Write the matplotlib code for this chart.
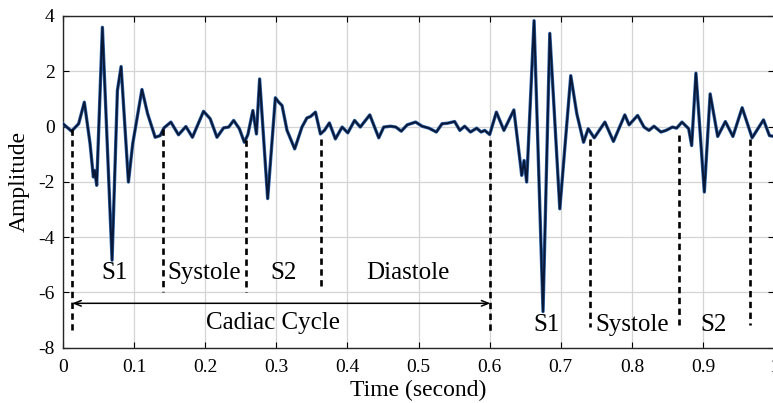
import numpy as np
import matplotlib
matplotlib.use('Agg')
import matplotlib.pyplot as plt

# PCG trace (peaks, troughs, shoulders)
time_s = [0.000, 0.012, 0.022, 0.030, 0.038, 0.0427, 0.0446, 0.0474, 0.0554, 0.069,
          0.0765, 0.0817, 0.092, 0.098, 0.111, 0.119, 0.1296, 0.1366, 0.142, 0.1517,
          0.1624, 0.1728, 0.182, 0.1976, 0.207, 0.2165, 0.2258, 0.233, 0.240, 0.248,
          0.255, 0.260, 0.267, 0.272, 0.2765, 0.2878, 0.2986, 0.3033, 0.308, 0.315,
          0.3258, 0.336, 0.343, 0.348, 0.355, 0.362, 0.3676, 0.3746, 0.383, 0.3925,
          0.4005, 0.410, 0.418, 0.4314, 0.444, 0.451, 0.4606, 0.468, 0.4756, 0.484,
          0.4958, 0.505, 0.5145, 0.525, 0.533, 0.541, 0.5507, 0.558, 0.5648, 0.573,
          0.5817, 0.588, 0.593, 0.600, 0.6094, 0.620, 0.634, 0.6437, 0.645, 0.6484,
          0.652, 0.6624, 0.675, 0.6845, 0.6986, 0.714, 0.7225, 0.732, 0.7385, 0.747,
          0.762, 0.774, 0.790, 0.796, 0.808, 0.817, 0.824, 0.831, 0.8408, 0.848,
          0.857, 0.8628, 0.8704, 0.8798, 0.884, 0.890, 0.9018, 0.910, 0.9206, 0.9314,
          0.942, 0.955, 0.969, 0.985, 0.9934, 1.000]
amplitude = [0.10, -0.17, 0.10, 0.88, -0.61, -1.83, -1.59, -2.13, 3.59, -4.84,
             1.30, 2.17, -2.01, -0.63, 1.34, 0.46, -0.39, -0.33, -0.05, 0.16,
             -0.30, 0.00, -0.39, 0.55, 0.28, -0.39, -0.05, -0.02, 0.22, -0.08,
             -0.57, -0.29, 0.58, -0.27, 1.72, -2.61, 1.04, 0.88, 0.76, -0.14,
             -0.81, -0.02, 0.31, 0.36, 0.52, -0.27, -0.14, 0.13, -0.45, -0.02,
             -0.23, 0.22, -0.02, 0.42, -0.41, -0.02, 0.01, -0.02, -0.17, 0.06,
             0.16, 0.01, -0.06, -0.20, 0.10, 0.12, 0.18, -0.14, 0.01, -0.20,
             -0.06, -0.20, -0.14, -0.29, 0.52, -0.14, 0.60, -1.47, -1.77, -1.23,
             -2.01, 3.83, -6.70, 3.37, -2.98, 1.84, 0.46, -0.57, -0.08, -0.41,
             0.16, -0.54, 0.42, 0.06, 0.40, -0.02, -0.14, 0.01, -0.20, -0.14,
             -0.02, -0.06, 0.16, -0.08, -0.69, 1.93, -2.37, 1.18, -0.36, 0.18,
             -0.36, 0.68, -0.41, 0.24, -0.33, -0.36]

# phase boundaries: time, top, bottom of the dashed markers
bound_t = [0.013, 0.141, 0.258, 0.363, 0.601, 0.741, 0.866, 0.966]
bound_top = [-0.1, -0.1, -0.5, -0.45, -0.5, -0.45, -0.3, -0.45]
bound_bot = [-7.37, -6.0, -6.0, -5.9, -7.45, -7.27, -7.2, -7.2]

# phase labels
phase_names = ['S1', 'Systole', 'S2', 'Diastole', 'S1', 'Systole', 'S2']
phase_t = [0.072, 0.199, 0.310, 0.485, 0.680, 0.801, 0.915]
phase_y = [-5.3, -5.3, -5.3, -5.3, -7.2, -7.2, -7.2]

plt.rcParams['font.family'] = ['Liberation Serif', 'DejaVu Serif']
plt.rcParams['axes.unicode_minus'] = False

fig = plt.figure(figsize=(7.73, 4.03), dpi=100)
ax = fig.add_axes([0.0815, 0.1377, 0.920, 0.8226])

ax.grid(True, color='#d4d4d4', linewidth=0.9)
ax.set_axisbelow(True)

# signal: blue edge, dark core
ax.plot(time_s, amplitude, color='#2f64a8', linewidth=2.4, solid_joinstyle='round', zorder=3)
ax.plot(time_s, amplitude, color='#0a1838', linewidth=1.4, solid_joinstyle='round', zorder=4)

for t, top, bot in zip(bound_t, bound_top, bound_bot):
    ax.plot([t, t], [top, bot], color='black', linewidth=1.9, dashes=(2.4, 1.7), zorder=5)

for name, t, y in zip(phase_names, phase_t, phase_y):
    ax.text(t, y, name, fontsize=18, ha='center', va='center', zorder=6)

ax.annotate('', xy=(0.013, -6.4), xytext=(0.601, -6.4),
            arrowprops=dict(arrowstyle='<->,head_length=0.5,head_width=0.2',
                            color='black', linewidth=1.1, shrinkA=0, shrinkB=0))
ax.text(0.295, -7.1, 'Cadiac Cycle', fontsize=18, ha='center', va='center')

ax.set_xlim(0, 1)
ax.set_ylim(-8, 4)
ax.set_xticks(np.arange(0, 1.01, 0.1))
ax.set_xticklabels(['0', '0.1', '0.2', '0.3', '0.4', '0.5', '0.6', '0.7', '0.8', '0.9', '1'])
ax.set_yticks([-8, -6, -4, -2, 0, 2, 4])
ax.tick_params(direction='in', length=4, width=0.8, labelsize=14, top=True, right=True)
ax.tick_params(axis='x', pad=8)
ax.tick_params(axis='y', pad=6)

for sp in ax.spines.values():
    sp.set_color('#262626')
    sp.set_linewidth(1.0)

ax.set_xlabel('Time (second)', fontsize=17, labelpad=3)
ax.set_ylabel('Amplitude', fontsize=17, labelpad=6)

fig.savefig('out.png', dpi=100)
